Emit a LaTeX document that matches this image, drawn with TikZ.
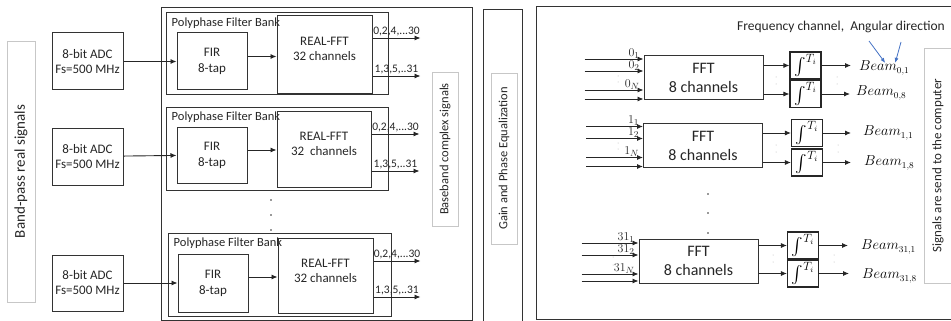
\documentclass[tikz,border=0pt]{standalone}
\usepackage[no-math]{fontspec}
\setmainfont{Carlito}
\usepackage{amsmath}
\usetikzlibrary{positioning, arrows.meta}
\definecolor{officeblue}{RGB}{68,114,196}

\begin{document}
\begin{tikzpicture}[x=1pt, y=-1pt,
    block/.style={rectangle, draw=black!80, line width=1pt, align=center, inner sep=0pt,
                  text=black!85, font=\fontsize{13}{15}\selectfont},
    group/.style={rectangle, draw=black!80, line width=1pt, inner sep=0pt},
    bank/.style={anchor=north west, inner sep=0pt, xshift=6pt, yshift=-5pt, text=black!85,
                 font=\fontsize{12.5}{14}\selectfont},
    rtxt/.style={anchor=north, align=center, inner sep=0pt, yshift=-21pt, text=black!85,
                 font=\fontsize{13}{15}\selectfont},
    tag/.style={rectangle, draw=black!22, line width=0.6pt, rotate=90, inner sep=0pt,
                text=black!85, font=\fontsize{13}{15}\selectfont},
    fft8/.style={block, minimum width=119pt, minimum height=44pt, font=\fontsize{16}{19}\selectfont},
    integ/.style={rectangle, draw=black!85, line width=1.1pt, inner sep=0pt, minimum width=31pt,
                  minimum height=27pt, font=\fontsize{17}{19}\selectfont},
    beam/.style={anchor=west, inner sep=0pt, font=\fontsize{13.5}{15}\selectfont},
    outlbl/.style={inner sep=1.5pt, text=black!85, font=\fontsize{11.5}{13}\selectfont},
    inlbl/.style={inner sep=0.5pt, xshift=-3pt, font=\fontsize{12.5}{14}\selectfont},
    arrow/.style={-{Latex[length=6pt, width=5pt]}, line width=0.9pt, black!85},
    bluearrow/.style={-{Latex[length=5pt, width=4pt]}, line width=0.8pt, officeblue},
    tick/.style={fill=black!80}
  ]
  \path[use as bounding box] (0,0) rectangle (951,321);
  \clip (0,0) rectangle (951,321);

  \node[tag, minimum width=261pt, minimum height=28pt, font=\fontsize{15}{17}\selectfont] (bp) at (21,171.5) {Band-pass real signals};

  \node[block, minimum width=71pt, minimum height=57pt] (adc1) at (87.5,61.5) {8-bit ADC\\Fs=500 MHz};
  \node[block, minimum width=71pt, minimum height=57pt] (adc2) at (87.5,156.5) {8-bit ADC\\Fs=500 MHz};
  \node[block, minimum width=71pt, minimum height=56pt] (adc3) at (87.5,283) {8-bit ADC\\Fs=500 MHz};

  \node[group, minimum width=311pt, minimum height=312pt] (pfb) at (316.5,164) {};
  \node[group, minimum width=222pt, minimum height=82pt, label={[bank]north west:Polyphase Filter Bank}] (bank1) at (277,54) {};
  \node[group, minimum width=222pt, minimum height=83pt, label={[bank]north west:Polyphase Filter Bank}] (bank2) at (277,148.5) {};
  \node[group, minimum width=223pt, minimum height=83pt, label={[bank]north west:Polyphase Filter Bank}] (bank3) at (279.5,274.5) {};

  \node[block, minimum width=70pt, minimum height=57pt, font=\fontsize{13}{16}\selectfont] (fir1) at (212,61.5) {FIR\\8-tap};
  \node[block, minimum width=70pt, minimum height=56pt, font=\fontsize{13}{16}\selectfont] (fir2) at (212,155) {FIR\\8-tap};
  \node[block, minimum width=70pt, minimum height=58pt, font=\fontsize{13}{16}\selectfont] (fir3) at (213,283) {FIR\\8-tap};

  \node[block, minimum width=95pt, minimum height=78pt, label={[rtxt]north:{REAL-FFT\\32 channels}}] (rfft1) at (324.5,55) {};
  \node[block, minimum width=94pt, minimum height=76pt, label={[rtxt]north:{REAL-FFT\\32~ channels}}] (rfft2) at (324,149) {};
  \node[block, minimum width=95pt, minimum height=75pt, label={[rtxt]north:{REAL-FFT\\32 channels}}] (rfft3) at (325.5,275.5) {};

  \draw[arrow] (adc1) -- (fir1);
  \draw[arrow] (adc2) -- (fir2);
  \draw[arrow] (adc3) -- (fir3);
  \draw[arrow] ([yshift=5pt]fir1.east) -- ([yshift=5pt]fir1.east -| rfft1.west);
  \draw[arrow] ([yshift=5pt]fir2.east) -- ([yshift=5pt]fir2.east -| rfft2.west);
  \draw[arrow] ([yshift=6pt]fir3.east) -- ([yshift=6pt]fir3.east -| rfft3.west);

  \draw[arrow] ([yshift=17pt]rfft1.east) -- ++(48,0) node[midway, above, outlbl] {0,2,4,...30};
  \draw[arrow] ([yshift=-21pt]rfft1.east) -- ++(48,0) node[midway, above, outlbl] {1,3,5,..31};
  \draw[arrow] ([yshift=15pt]rfft2.east) -- ++(48,0) node[midway, above, outlbl] {0,2,4,...30};
  \draw[arrow] ([yshift=-22pt]rfft2.east) -- ++(48,0) node[midway, above, outlbl] {1,3,5,..31};
  \draw[arrow] ([yshift=14.5pt]rfft3.east) -- ++(47,0) node[midway, above, outlbl] {0,2,4,...30};
  \draw[arrow] ([yshift=-21.5pt]rfft3.east) -- ++(47,0) node[midway, above, outlbl] {1,3,5,..31};

  \fill[tick] (271,200) circle (0.8pt);
  \fill[tick] (271,215) circle (0.8pt);
  \fill[tick] (271,230) circle (0.8pt);

  \node[tag, minimum width=154pt, minimum height=26pt, font=\fontsize{12.5}{14}\selectfont] (base) at (445,149) {Baseband complex signals};

  \node[group, minimum width=39pt, minimum height=312pt] (eqz) at (502.5,166) {};
  \node[tag, minimum width=171pt, minimum height=26pt, font=\fontsize{12.5}{14}\selectfont] (gain) at (504,158.5) {Gain and Phase Equalization};

  \node[group, minimum width=430pt, minimum height=312pt] (beamf) at (751,163) {};
  \node[text=black!85, font=\fontsize{13.5}{15}\selectfont] (dir) at (841,27) {Frequency channel,~ Angular direction};

  \node[fft8] (fa) at (703.5,78) {FFT\\8 channels};
  \node[fft8] (fb) at (703,145.5) {FFT\\8 channels};
  \node[fft8] (fc) at (698.5,261) {FFT\\8 channels};

  \draw[arrow] ([shift={(-59,-19)}]fa.west) -- ([shift={(0,-19)}]fa.west) node[above left, inlbl] {$0_1$};
  \draw[arrow] ([shift={(-59,-7)}]fa.west) -- ([shift={(0,-7)}]fa.west) node[above left, inlbl] {$0_2$};
  \draw[arrow] ([shift={(-59,12)}]fa.west) -- ([shift={(0,12)}]fa.west) node[above left, inlbl] {$0_N$};
  \draw[arrow] ([shift={(-59,21)}]fa.west) -- ([shift={(0,21)}]fa.west);
  \draw[arrow] ([shift={(-57,-19)}]fb.west) -- ([shift={(0,-19)}]fb.west) node[above left, inlbl] {$1_1$};
  \draw[arrow] ([shift={(-57,-7)}]fb.west) -- ([shift={(0,-7)}]fb.west) node[above left, inlbl] {$1_2$};
  \draw[arrow] ([shift={(-57,12)}]fb.west) -- ([shift={(0,12)}]fb.west) node[above left, inlbl] {$1_N$};
  \draw[arrow] ([shift={(-57,21)}]fb.west) -- ([shift={(0,21)}]fb.west);
  \draw[arrow] ([shift={(-57,-18)}]fc.west) -- ([shift={(0,-18)}]fc.west) node[above left, inlbl] {$31_1$};
  \draw[arrow] ([shift={(-57,-6)}]fc.west) -- ([shift={(0,-6)}]fc.west) node[above left, inlbl] {$31_2$};
  \draw[arrow] ([shift={(-57,13)}]fc.west) -- ([shift={(0,13)}]fc.west) node[above left, inlbl] {$31_N$};
  \draw[arrow] ([shift={(-57,20)}]fc.west) -- ([shift={(0,20)}]fc.west);

  \node[integ] (ia1) at (805.5,65.5) {$\int^{T_i}$};
  \node[integ] (ia8) at (805.5,94) {$\int^{T_i}$};
  \node[integ] (ib1) at (807,133) {$\int^{T_i}$};
  \node[integ] (ib8) at (807,162.5) {$\int^{T_i}$};
  \node[integ] (ic1) at (803,245.5) {$\int^{T_i}$};
  \node[integ] (ic8) at (803,273.5) {$\int^{T_i}$};

  \node[beam] (b01) at (859,68) {$Beam_{0,1}$};
  \node[beam] (b08) at (856,93) {$Beam_{0,8}$};
  \node[beam] (b11) at (863,133) {$Beam_{1,1}$};
  \node[beam] (b18) at (864,163) {$Beam_{1,8}$};
  \node[beam] (b311) at (861,247) {$Beam_{31,1}$};
  \node[beam] (b318) at (862,276) {$Beam_{31,8}$};

  \draw[arrow] (fa.east |- ia1) -- (ia1);
  \draw[arrow] (fa.east |- ia8) -- (ia8);
  \draw[arrow] (fb.east |- ib1) -- (ib1);
  \draw[arrow] (fb.east |- ib8) -- (ib8);
  \draw[arrow] (fc.east |- ic1) -- (ic1);
  \draw[arrow] (fc.east |- ic8) -- (ic8);
  \draw[arrow, shorten >=8pt] (ia1.east) -- (ia1.east -| b01.west);
  \draw[arrow, shorten >=6pt] (ia8.east) -- (ia8.east -| b08.west);
  \draw[arrow, shorten >=12pt] (ib1.east) -- (ib1.east -| b11.west);
  \draw[arrow, shorten >=13pt] (ib8.east) -- (ib8.east -| b18.west);
  \draw[arrow, shorten >=13pt] (ic1.east) -- (ic1.east -| b311.west);
  \draw[arrow, shorten >=13pt] (ic8.east) -- (ic8.east -| b318.west);

  \coordinate (f1) at (869,41);
  \coordinate (f2) at (901,42);
  \draw[bluearrow] (f1) -- ([shift={(1,2)}]b01.north);
  \draw[bluearrow] (f2) -- ([shift={(11,2)}]b01.north);

  \fill[tick] (708,194) circle (0.8pt);
  \fill[tick] (708,213) circle (0.8pt);
  \fill[tick] (708,233) circle (0.8pt);
  \fill[black!30] (618,76) circle (0.5pt) (618,82) circle (0.5pt) (618,143) circle (0.5pt) (618,149) circle (0.5pt)
                  (613,257) circle (0.5pt) (613,265) circle (0.5pt);
  \fill[black!30] (776,77) circle (0.5pt) (776,84) circle (0.5pt) (837,77) circle (0.5pt) (837,84) circle (0.5pt)
                  (776,145) circle (0.5pt) (776,152) circle (0.5pt) (838,145) circle (0.5pt) (838,152) circle (0.5pt)
                  (773,255) circle (0.5pt) (773,262) circle (0.5pt) (834,255) circle (0.5pt) (834,262) circle (0.5pt);

  \node[tag, minimum width=235pt, minimum height=28pt] (comp) at (938,165.5) {Signals are send to the computer};
\end{tikzpicture}
\end{document}
